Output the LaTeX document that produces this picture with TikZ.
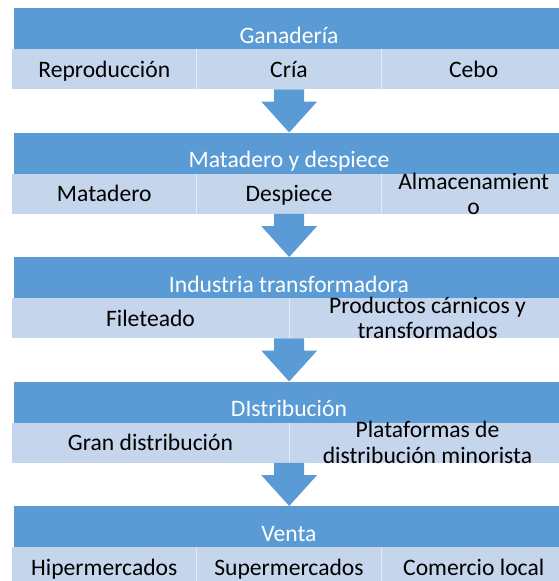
\documentclass[tikz,border=0pt]{standalone}
\usepackage{fontspec}
\setmainfont{Carlito}
\usetikzlibrary{calc}
\definecolor{bandblue}{HTML}{5B9BD5}
\definecolor{rowblue}{HTML}{C5D6EC}
\begin{document}
\begin{tikzpicture}[x=1pt,y=-1pt,
  band/.style={rectangle, fill=bandblue, inner sep=0pt, minimum width=550pt, minimum height=41pt, anchor=north west},
  rowbox/.style={rectangle, fill=rowblue, inner sep=0pt, minimum width=554pt, minimum height=40pt, anchor=north west},
  title/.style={anchor=base, text=white, inner sep=0pt, font=\fontsize{23.6}{25.5}\selectfont},
  cell/.style={anchor=base, text=black, inner sep=0pt, align=center, font=\fontsize{23.6}{25.5}\selectfont},
  divider/.style={draw=white, draw opacity=0.55, line width=1.2pt},
  blockarrow/.style={fill=bandblue}]
\path[use as bounding box] (0,0) rectangle (559,581);
\clip (0,0) rectangle (559,581);
% Block 1
\node[band] (b1) at (14,8) {};
\node[rowbox] (r1) at (12,49) {};
\node[title] (t1) at (289,43) {Ganadería};
\node[cell] (c11) at (104.3,77.3) {Reproducción};
\node[cell] (c12) at (289,77.3) {Cría};
\node[cell] (c13) at (473.7,77.3) {Cebo};
\draw[divider] ($(r1.north west)!1/3!(r1.north east)$) -- ($(r1.south west)!1/3!(r1.south east)$);
\draw[divider] ($(r1.north west)!2/3!(r1.north east)$) -- ($(r1.south west)!2/3!(r1.south east)$);
% Block 2
\node[band] (b2) at (14,132.5) {};
\node[rowbox] (r2) at (12,173.5) {};
\node[title] (t2) at (289,167.5) {Matadero y despiece};
\node[cell] (c21) at (104.3,201.8) {Matadero};
\node[cell] (c22) at (289,201.8) {Despiece};
\node[cell] (c23) at (473.7,214.5) {Almacenamient\\o};
\draw[divider] ($(r2.north west)!1/3!(r2.north east)$) -- ($(r2.south west)!1/3!(r2.south east)$);
\draw[divider] ($(r2.north west)!2/3!(r2.north east)$) -- ($(r2.south west)!2/3!(r2.south east)$);
% Block 3
\node[band] (b3) at (14,257) {};
\node[rowbox] (r3) at (12,298) {};
\node[title] (t3) at (289,292) {Industria transformadora};
\node[cell] (c31) at (150.5,326.3) {Fileteado};
\node[cell] (c32) at (427.5,338.5) {Productos cárnicos y\\transformados};
\draw[divider] (r3.north) -- (r3.south);
% Block 4
\node[band] (b4) at (14,381.5) {};
\node[rowbox] (r4) at (12,422.5) {};
\node[title] (t4) at (289,416.5) {DIstribución};
\node[cell] (c41) at (150.5,450.8) {Gran distribución};
\node[cell] (c42) at (427.5,463) {Plataformas de\\distribución minorista};
\draw[divider] (r4.north) -- (r4.south);
% Block 5
\node[band] (b5) at (14,506) {};
\node[rowbox] (r5) at (12,547) {};
\node[title] (t5) at (289,541) {Venta};
\node[cell] (c51) at (104.3,575.3) {Hipermercados};
\node[cell] (c52) at (289,575.3) {Supermercados};
\node[cell] (c53) at (473.7,575.3) {Comercio local};
\draw[divider] ($(r5.north west)!1/3!(r5.north east)$) -- ($(r5.south west)!1/3!(r5.south east)$);
\draw[divider] ($(r5.north west)!2/3!(r5.north east)$) -- ($(r5.south west)!2/3!(r5.south east)$);
% Block arrows
\foreach \i/\j in {1/2,2/3,3/4,4/5} {
  \fill[blockarrow] ($(r\i.south)+(-15,0)$) -- ($(r\i.south)+(15,0)$)
    -- ($(b\j.north)+(15,-31)$) -- ($(b\j.north)+(28,-31)$) -- (b\j.north)
    -- ($(b\j.north)+(-28,-31)$) -- ($(b\j.north)+(-15,-31)$) -- cycle;
}
\end{tikzpicture}
\end{document}
